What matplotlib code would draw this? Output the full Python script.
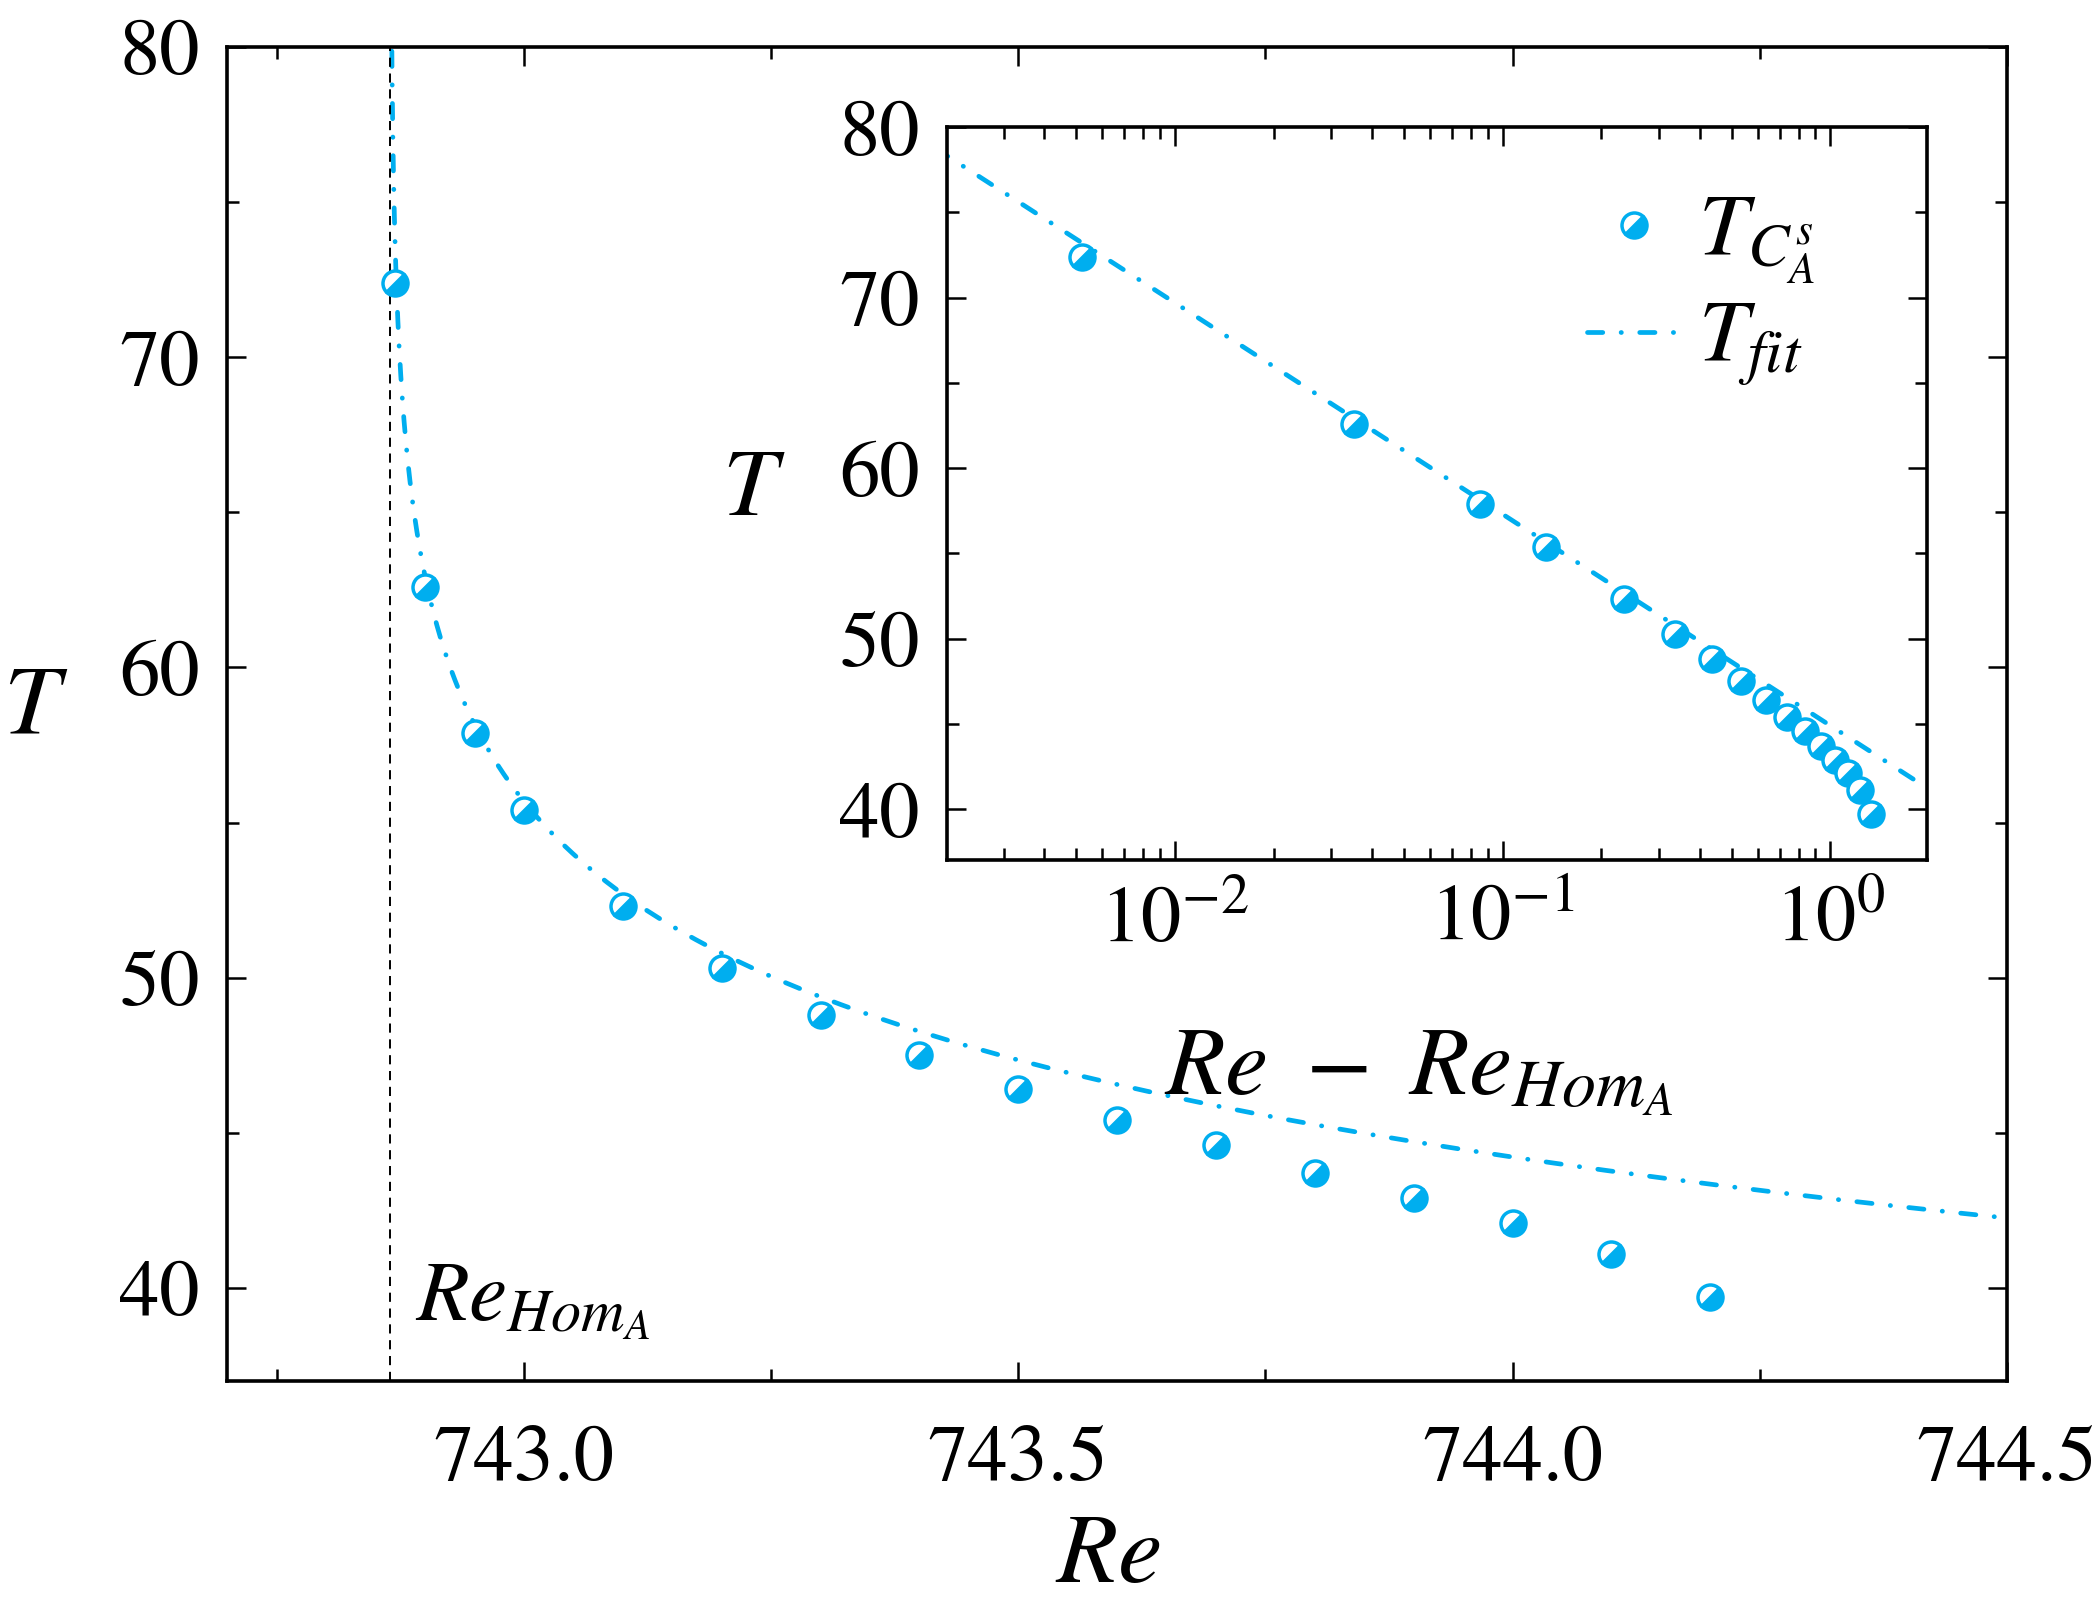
import numpy as np
import matplotlib
matplotlib.use("Agg")
import matplotlib.pyplot as plt
from matplotlib.markers import MarkerStyle
from matplotlib.transforms import Affine2D
from matplotlib.ticker import MultipleLocator, LogLocator, NullFormatter

# data
Re_hom = 742.8648
Re_pts = [742.87, 742.90, 742.95, 743.0, 743.1, 743.2, 743.3, 743.4,
          743.5, 743.6, 743.7, 743.8, 743.9, 744.0, 744.1, 744.2]
T_pts = [72.4, 62.6, 57.9, 55.4, 52.3, 50.3, 48.8, 47.5,
         46.4, 45.4, 44.6, 43.7, 42.9, 42.1, 41.1, 39.7]

# T_fit = a + b*log10(Re - Re_hom)
fit_a = 44.9
fit_b = -12.4

plt.rcParams['font.family'] = ['STIXGeneral', 'DejaVu Serif']
plt.rcParams['mathtext.fontset'] = 'stix'
plt.rcParams['lines.scale_dashes'] = False

col = '#00AEEF'
mk = MarkerStyle('o', fillstyle='right', transform=Affine2D().rotate_deg(-45))
mkw = dict(ls='none', marker=mk, ms=9.0, mew=1.25, color=col,
           markerfacecoloralt='white', markeredgecolor=col)
fitw = dict(color=col, lw=1.7, dashes=(5.5, 6.6, 0.1, 6.6),
            dash_capstyle='round')


def style_axes(ax, size):
    for s in ax.spines.values():
        s.set_linewidth(1.3)
    ax.tick_params(which='both', direction='in', top=True, right=True,
                   labelsize=size, width=0.9)
    ax.tick_params(which='major', length=7)
    ax.tick_params(which='minor', length=4.2)


fig = plt.figure(figsize=(10.49, 8.09), dpi=200)
ax = fig.add_axes([0.1084, 0.1465, 0.8482, 0.8245])

Re_dense = Re_hom + np.logspace(-3.5, np.log10(744.6 - Re_hom), 600)
ax.plot(Re_dense, fit_a + fit_b * np.log10(Re_dense - Re_hom), **fitw)
ax.axvline(Re_hom, color='k', lw=0.7, dashes=(3.3, 2.4))
ax.plot(Re_pts, T_pts, **mkw)
ax.text(742.89, 38.95, r'$Re_{Hom_A}$', fontsize=31, va='baseline')

ax.set_xlim(742.7, 744.5)
ax.set_ylim(37, 80)
ax.xaxis.set_major_locator(MultipleLocator(0.5))
ax.xaxis.set_minor_locator(MultipleLocator(0.25))
ax.yaxis.set_major_locator(MultipleLocator(10))
ax.yaxis.set_minor_locator(MultipleLocator(5))
ax.xaxis.set_major_formatter(matplotlib.ticker.FormatStrFormatter('%.1f'))
style_axes(ax, 29)
ax.tick_params(axis='x', which='both', pad=16)
ax.tick_params(axis='y', which='both', pad=10)
ax.set_xlabel(r'$Re$', fontsize=36, va='center')
ax.xaxis.set_label_coords(0.495, -0.133)
ax.set_ylabel(r'$T$', fontsize=36, rotation=0, va='center', ha='center')
ax.yaxis.set_label_coords(-0.108, 0.503)

# inset
axi = fig.add_axes([0.4515, 0.4683, 0.4669, 0.4531])
dx = np.array(Re_pts) - Re_hom
xx = np.logspace(-3, 0.5, 200)
axi.plot(xx, fit_a + fit_b * np.log10(xx), label=r'$T_{fit}$', **fitw)
axi.plot(dx, T_pts, label=r'$T_{C^s_A}$', **mkw)
axi.set_xscale('log')
axi.set_xlim(0.00202, 1.97)
axi.set_ylim(37, 80)
axi.yaxis.set_major_locator(MultipleLocator(10))
axi.yaxis.set_minor_locator(MultipleLocator(5))
axi.xaxis.set_major_locator(LogLocator(base=10, numticks=10))
axi.xaxis.set_minor_locator(LogLocator(base=10, subs=np.arange(2, 10), numticks=20))
axi.xaxis.set_minor_formatter(NullFormatter())
style_axes(axi, 29)
axi.tick_params(axis='x', which='both', pad=9)
axi.tick_params(axis='y', which='both', pad=10)
axi.set_xlabel(r'$Re\ -\ Re_{Hom_A}$', fontsize=35, va='center')
axi.xaxis.set_label_coords(0.481, -0.29)
axi.set_ylabel(r'$T$', fontsize=35, rotation=0, va='center', ha='center')
axi.yaxis.set_label_coords(-0.198, 0.502)

h, l = axi.get_legend_handles_labels()
axi.legend(h[::-1], l[::-1], loc='upper right', bbox_to_anchor=(0.968, 1.018),
           frameon=False, fontsize=32, handlelength=1.05, handletextpad=0.2,
           labelspacing=0.16)

fig.savefig('out.png', dpi=200)
